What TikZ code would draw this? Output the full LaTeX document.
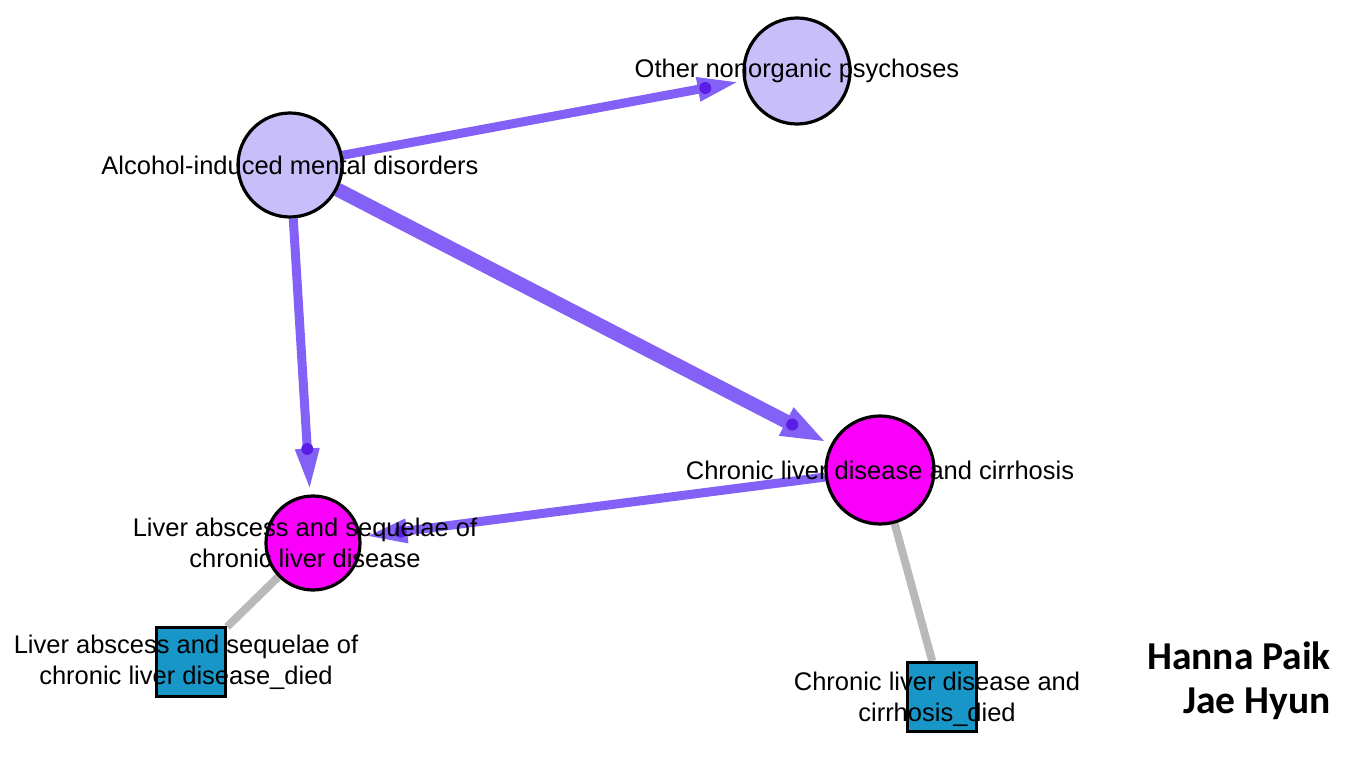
\documentclass[tikz,border=0pt]{standalone}
\usepackage{fontspec}
\setmainfont{Liberation Sans}
\newfontfamily\authorfont{Carlito}
\usetikzlibrary{arrows.meta, backgrounds}

\definecolor{edgeviolet}{RGB}{131,96,246}
\definecolor{dotviolet}{RGB}{90,30,230}
\definecolor{lavender}{RGB}{200,190,250}
\definecolor{diseasemag}{RGB}{250,0,250}
\definecolor{diedblue}{RGB}{25,150,200}
\definecolor{linkgrey}{RGB}{185,185,185}

\tikzset{
  mental/.style={circle, draw=black, line width=3.2pt, fill=lavender, inner sep=0pt},
  liver/.style={circle, draw=black, line width=3.2pt, fill=diseasemag, inner sep=0pt},
  died/.style={rectangle, draw=black, line width=3.2pt, fill=diedblue, minimum size=69pt, inner sep=0pt},
  lbl/.style={font=\fontsize{25.5}{31}\selectfont, align=center, text=black, inner sep=0pt},
  link/.style={draw=edgeviolet, line width=9pt, shorten >=4pt, -{Triangle[length=42pt,width=22pt]}},
  headdot/.style={circle, fill=dotviolet, minimum size=12pt, inner sep=0pt},
  died link/.style={draw=linkgrey, line width=8pt}
}

\begin{document}
\begin{tikzpicture}[x=1pt, y=-1pt]
  %comorbidity network, alcohol and liver
  \useasboundingbox (0,0) rectangle (1366,768);

  \node[mental, minimum size=104pt, label={[lbl]center:Alcohol-induced mental disorders}] (alcohol) at (290,165) {};
  \node[mental, minimum size=106pt, label={[lbl]center:Other nonorganic psychoses}] (other) at (797,71) {};
  \node[liver, minimum size=108pt, label={[lbl]center:Chronic liver disease and cirrhosis}] (cirrhosis) at (880,470) {};
  \node[liver, minimum size=94pt, label={[lbl, xshift=-8pt]center:Liver abscess and sequelae of\\chronic liver disease}] (abscess) at (313,543) {};
  \node[died, label={[lbl, xshift=-5pt]center:Liver abscess and sequelae of\\chronic liver disease\_died}] (abscessdied) at (191,662) {};
  \node[died, label={[lbl, xshift=-5pt, yshift=-2pt]center:Chronic liver disease and\\cirrhosis\_died}] (cirrhosisdied) at (942,697) {};

  \node[font=\authorfont\bfseries\fontsize{39.5}{44}\selectfont, align=right, anchor=north east, inner sep=0pt] (authors) at (1331,642) {Hanna Paik\\Jae Hyun};

  \begin{scope}[on background layer]
    \draw[link] (alcohol) -- (other) node[headdot, pos=0.905] {};
    \draw[link, line width=14pt, -{Triangle[length=46pt,width=28pt]}] (alcohol) -- (cirrhosis) node[headdot, pos=0.922] {};
    \draw[link] (alcohol) -- (abscess) node[headdot, pos=0.835] {};
    \draw[link] (cirrhosis) -- (abscess) node[headdot, pos=0.915] {};
    \draw[died link] (abscess) -- (abscessdied);
    \draw[died link] (cirrhosis) -- (cirrhosisdied);
  \end{scope}
\end{tikzpicture}
\end{document}
